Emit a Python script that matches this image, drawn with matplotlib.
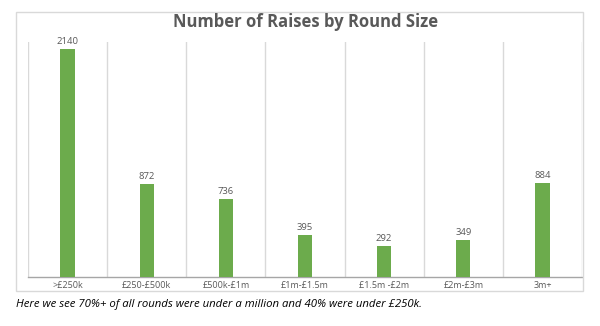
import matplotlib
matplotlib.use("Agg")
import matplotlib.pyplot as plt
from matplotlib.patches import Rectangle

categories = [">£250k", "£250-£500k", "£500k-£1m", "£1m-£1.5m", "£1.5m -£2m", "£2m-£3m", "3m+"]
values = [2140, 872, 736, 395, 292, 349, 884]
title = "Number of Raises by Round Size"
caption = "Here we see 70%+ of all rounds were under a million and 40% were under £250k."

plt.rcParams['font.family'] = ['Open Sans', 'DejaVu Sans']
W, H = 600, 326
fig = plt.figure(figsize=(W / 100, H / 100), dpi=100)
fig.patch.set_facecolor("white")

# chart border
fig.add_artist(Rectangle((16 / W, 1 - 291 / H), (583 - 16) / W, (291 - 12) / H,
                         transform=fig.transFigure, fill=False, edgecolor="#d9d9d9", linewidth=1))

ax = fig.add_axes([28 / W, 1 - 277 / H, (582 - 28) / W, (277 - 42) / H])
x = list(range(len(categories)))
bars = ax.bar(x, values, width=0.18, color="#6CAB4C", zorder=3)
ax.set_xlim(-0.5, len(categories) - 0.5)
ax.set_ylim(0, 2206)

for xi, v in zip(x, values):
    ax.annotate(str(v), (xi, v), xytext=(0, 2), textcoords="offset points",
                ha="center", va="bottom", fontsize=6.8, color="#595959")

for b in range(len(categories) + 1):
    ax.axvline(b - 0.5, color="#d9d9d9", linewidth=1, zorder=1)

for s in ["top", "left", "right"]:
    ax.spines[s].set_visible(False)
ax.spines["bottom"].set_color("#a6a6a6")
ax.spines["bottom"].set_linewidth(1)
ax.set_yticks([])
ax.set_xticks(x)
ax.set_xticklabels(categories, fontsize=6.5, color="#595959")
ax.tick_params(axis="x", length=0, pad=3)

fig.text(0.51, 1 - 22 / H, title, ha="center", va="center", fontsize=12,
         fontweight="bold", color="#595959")
fig.text(16 / W, 1 - 304 / H, caption, ha="left", va="center", fontsize=8.2,
         style="italic", color="black")

fig.savefig("out.png", dpi=100)
